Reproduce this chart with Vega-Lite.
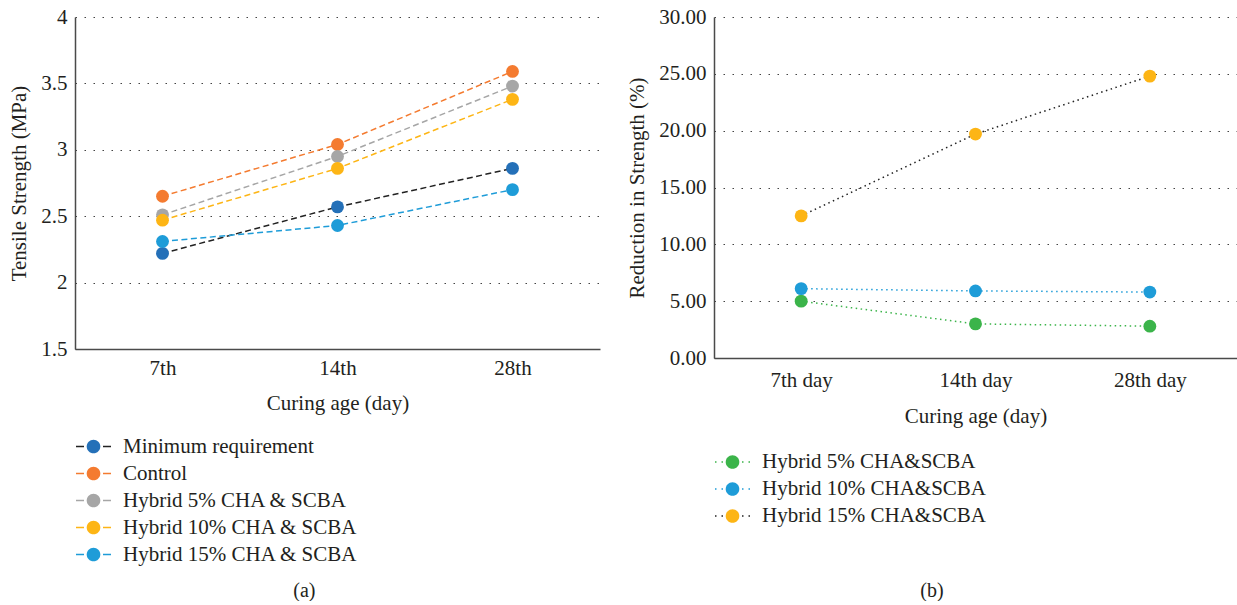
{
  "$schema": "https://vega.github.io/schema/vega-lite/v6.json",
  "padding": {"left": 8, "top": 6, "right": 0, "bottom": 0},
  "background": "white",
  "config": {
    "font": "Liberation Serif",
    "view": {"stroke": null},
    "concat": {"spacing": 26},
    "axis": {
      "labelFont": "Liberation Serif", "labelFontSize": 21, "labelColor": "#231F20",
      "titleFont": "Liberation Serif", "titleFontSize": 21, "titleFontWeight": "normal", "titleColor": "#231F20",
      "domainColor": "#4a4a4a", "domainWidth": 1.5, "ticks": false,
      "gridColor": "#444444", "gridDash": [1.5, 7.5], "gridWidth": 1.2
    },
    "axisX": {"grid": false, "labelPadding": 8, "titlePadding": 14, "labelAngle": 0},
    "axisY": {"grid": true, "labelPadding": 8, "titlePadding": 11},
    "legend": {"labelFont": "Liberation Serif", "labelFontSize": 21, "labelColor": "#231F20", "padding": 0, "rowPadding": 5, "labelLimit": 0}
  },
  "datasets": {
    "left": [
      {"series": "Minimum requirement", "age": "7th", "strength": 2.22},
      {"series": "Minimum requirement", "age": "14th", "strength": 2.57},
      {"series": "Minimum requirement", "age": "28th", "strength": 2.86},
      {"series": "Control", "age": "7th", "strength": 2.65},
      {"series": "Control", "age": "14th", "strength": 3.04},
      {"series": "Control", "age": "28th", "strength": 3.59},
      {"series": "Hybrid 5% CHA & SCBA", "age": "7th", "strength": 2.51},
      {"series": "Hybrid 5% CHA & SCBA", "age": "14th", "strength": 2.95},
      {"series": "Hybrid 5% CHA & SCBA", "age": "28th", "strength": 3.48},
      {"series": "Hybrid 10% CHA & SCBA", "age": "7th", "strength": 2.47},
      {"series": "Hybrid 10% CHA & SCBA", "age": "14th", "strength": 2.86},
      {"series": "Hybrid 10% CHA & SCBA", "age": "28th", "strength": 3.38},
      {"series": "Hybrid 15% CHA & SCBA", "age": "7th", "strength": 2.31},
      {"series": "Hybrid 15% CHA & SCBA", "age": "14th", "strength": 2.43},
      {"series": "Hybrid 15% CHA & SCBA", "age": "28th", "strength": 2.70}
    ],
    "right": [
      {"series": "Hybrid 5% CHA&SCBA", "age": "7th day", "reduction": 5.0},
      {"series": "Hybrid 5% CHA&SCBA", "age": "14th day", "reduction": 3.0},
      {"series": "Hybrid 5% CHA&SCBA", "age": "28th day", "reduction": 2.8},
      {"series": "Hybrid 10% CHA&SCBA", "age": "7th day", "reduction": 6.1},
      {"series": "Hybrid 10% CHA&SCBA", "age": "14th day", "reduction": 5.9},
      {"series": "Hybrid 10% CHA&SCBA", "age": "28th day", "reduction": 5.8},
      {"series": "Hybrid 15% CHA&SCBA", "age": "7th day", "reduction": 12.5},
      {"series": "Hybrid 15% CHA&SCBA", "age": "14th day", "reduction": 19.7},
      {"series": "Hybrid 15% CHA&SCBA", "age": "28th day", "reduction": 24.8}
    ]
  },
  "hconcat": [
    {
      "width": 525,
      "height": 332,
      "data": {"name": "left"},
      "title": {"text": "(a)", "orient": "bottom", "anchor": "middle", "frame": "bounds", "offset": 16, "fontSize": 20, "fontWeight": "normal", "font": "Liberation Serif", "color": "#231F20"},
      "encoding": {
        "x": {"field": "age", "type": "ordinal", "sort": ["7th", "14th", "28th"], "scale": {"type": "point", "padding": 0.5}, "axis": {"title": "Curing age (day)"}},
        "y": {"field": "strength", "type": "quantitative", "scale": {"domain": [1.5, 4], "nice": false, "zero": false}, "axis": {"title": "Tensile Strength (MPa)", "values": [1.5, 2, 2.5, 3, 3.5, 4], "format": "~g"}}
      },
      "layer": [
        {
          "mark": {"type": "line", "strokeDash": [6, 3.5], "strokeWidth": 1.5},
          "encoding": {
            "stroke": {
              "field": "series", "type": "nominal",
              "sort": ["Minimum requirement", "Control", "Hybrid 5% CHA & SCBA", "Hybrid 10% CHA & SCBA", "Hybrid 15% CHA & SCBA"],
              "scale": {"range": ["#222222", "#F47B30", "#A6A6A6", "#FDB515", "#1E9CD8"]},
              "legend": {"title": null, "orient": "none", "legendX": 7, "legendY": 418, "symbolType": "M-1.667,0H-0.905M0.905,0H1.667", "symbolSize": 441, "symbolStrokeWidth": 1.5, "symbolDash": [], "symbolFillColor": "transparent", "labelOffset": 18}
            }
          }
        },
        {
          "mark": {"type": "point", "filled": true, "size": 165, "opacity": 1, "strokeWidth": 0},
          "encoding": {
            "fill": {
              "field": "series", "type": "nominal",
              "scale": {"domain": ["Minimum requirement", "Control", "Hybrid 5% CHA & SCBA", "Hybrid 10% CHA & SCBA", "Hybrid 15% CHA & SCBA"], "range": ["#2470B8", "#F47B30", "#A6A6A6", "#FDB515", "#1E9CD8"]},
              "legend": {"title": null, "orient": "none", "legendX": 7, "legendY": 418, "symbolType": "M-0.65,0A0.65,0.65,0,1,0,0.65,0A0.65,0.65,0,1,0,-0.65,0Z", "symbolSize": 441, "symbolStrokeWidth": 1.5, "symbolStrokeColor": "transparent", "symbolOpacity": 1, "labelOffset": 18, "labelOpacity": 0}
            }
          }
        }
      ]
    },
    {
      "width": 523,
      "height": 341,
      "data": {"name": "right"},
      "title": {"text": "(b)", "orient": "bottom", "anchor": "middle", "frame": "bounds", "offset": 54, "fontSize": 20, "fontWeight": "normal", "font": "Liberation Serif", "color": "#231F20"},
      "encoding": {
        "x": {"field": "age", "type": "ordinal", "sort": ["7th day", "14th day", "28th day"], "scale": {"type": "point", "padding": 0.5}, "axis": {"title": "Curing age (day)", "labelPadding": 11, "titlePadding": 15}},
        "y": {"field": "reduction", "type": "quantitative", "scale": {"domain": [0, 30], "nice": false}, "axis": {"title": "Reduction in Strength (%)", "values": [0, 5, 10, 15, 20, 25, 30], "format": ".2f"}}
      },
      "layer": [
        {
          "mark": {"type": "line", "strokeDash": [1.5, 3.5], "strokeWidth": 1.5},
          "encoding": {
            "stroke": {
              "field": "series", "type": "nominal",
              "sort": ["Hybrid 5% CHA&SCBA", "Hybrid 10% CHA&SCBA", "Hybrid 15% CHA&SCBA"],
              "scale": {"range": ["#3BB44A", "#1E9CD8", "#222222"]},
              "legend": {"title": null, "orient": "none", "legendX": 7, "legendY": 433.5, "symbolType": "M-1.667,0H-0.905M0.905,0H1.667", "symbolSize": 441, "symbolStrokeWidth": 1.5, "symbolDash": [1.5, 5], "symbolFillColor": "transparent", "labelOffset": 18}
            }
          }
        },
        {
          "mark": {"type": "point", "filled": true, "size": 165, "opacity": 1, "strokeWidth": 0},
          "encoding": {
            "fill": {
              "field": "series", "type": "nominal",
              "scale": {"domain": ["Hybrid 5% CHA&SCBA", "Hybrid 10% CHA&SCBA", "Hybrid 15% CHA&SCBA"], "range": ["#3BB44A", "#1E9CD8", "#FDB515"]},
              "legend": {"title": null, "orient": "none", "legendX": 7, "legendY": 433.5, "symbolType": "M-0.65,0A0.65,0.65,0,1,0,0.65,0A0.65,0.65,0,1,0,-0.65,0Z", "symbolSize": 441, "symbolStrokeWidth": 1.5, "symbolStrokeColor": "transparent", "symbolOpacity": 1, "labelOffset": 18, "labelOpacity": 0}
            }
          }
        }
      ]
    }
  ],
  "resolve": {
    "scale": {"x": "independent", "y": "independent", "fill": "independent", "stroke": "independent"},
    "legend": {"fill": "independent", "stroke": "independent"}
  }
}
